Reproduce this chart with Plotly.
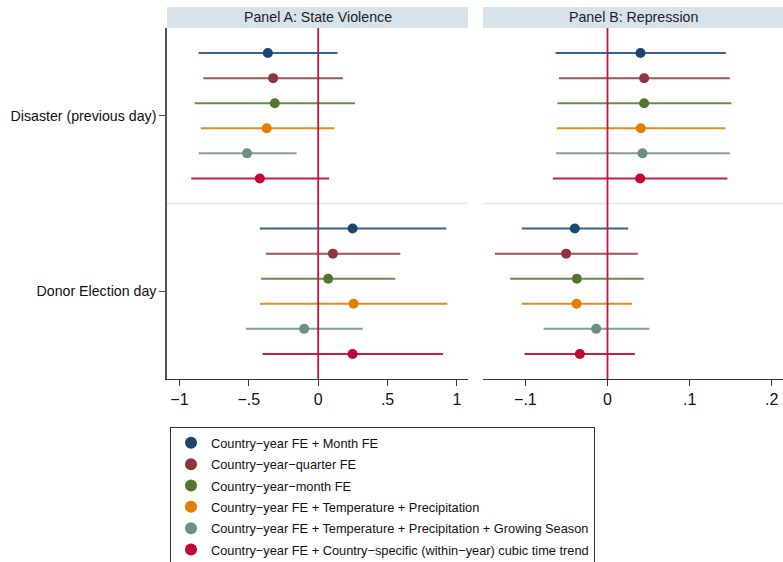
import plotly.graph_objects as go

specs = ["Country−year FE + Month FE",
         "Country−year−quarter FE",
         "Country−year−month FE",
         "Country−year FE + Temperature + Precipitation",
         "Country−year FE + Temperature + Precipitation + Growing Season",
         "Country−year FE + Country−specific (within−year) cubic time trend"]
colors = ["#1a476f", "#90353b", "#55752f", "#e37e00", "#6e8e84", "#c10534"]
line_colors = ["rgba(26,71,111,0.85)", "rgba(144,53,59,0.85)", "rgba(85,117,47,0.85)",
               "rgba(227,126,0,0.9)", "rgba(110,142,132,0.85)", "rgba(193,5,52,0.9)"]
groups = ["Disaster (previous day)", "Donor Election day"]
panels = ["Panel A: State Violence", "Panel B: Repression"]

# Panel A: State Violence  (rows = specs; [disaster, election])
a_coef = [[-0.363, 0.248], [-0.325, 0.106], [-0.313, 0.072], [-0.371, 0.255], [-0.513, -0.101], [-0.421, 0.248]]
a_lo   = [[-0.862, -0.421], [-0.828, -0.378], [-0.890, -0.412], [-0.847, -0.419], [-0.862, -0.522], [-0.915, -0.402]]
a_hi   = [[0.140, 0.924], [0.178, 0.592], [0.265, 0.556], [0.116, 0.931], [-0.156, 0.322], [0.079, 0.900]]
# Panel B: Repression
b_coef = [[0.0402, -0.0398], [0.0446, -0.0503], [0.0446, -0.0373], [0.0406, -0.0377], [0.0426, -0.0138], [0.0398, -0.0337]]
b_lo   = [[-0.0633, -0.1043], [-0.0592, -0.1371], [-0.0609, -0.1185], [-0.0617, -0.1043], [-0.0625, -0.0779], [-0.0665, -0.1010]]
b_hi   = [[0.1440, 0.0252], [0.1490, 0.0369], [0.1510, 0.0442], [0.1436, 0.0300], [0.1490, 0.0511], [0.1460, 0.0333]]

a_ticks = [-1, -0.5, 0, 0.5, 1]
a_ticktext = ["−1", "−.5", "0", ".5", "1"]
b_ticks = [-0.1, 0, 0.1, 0.2]
b_ticktext = ["−.1", "0", ".1", ".2"]

W, H = 783, 562
FONT = "Liberation Sans, Arial, sans-serif"

fig = go.Figure()

n = len(specs)
group_gap = n + 1
for i in range(n):
    ys = [i, i + group_gap]
    for p, (coef, lo, hi, xa) in enumerate([(a_coef, a_lo, a_hi, "x"), (b_coef, b_lo, b_hi, "x2")]):
        c = coef[i]
        fig.add_trace(go.Scatter(
            x=c, y=ys, mode="markers", xaxis=xa, yaxis="y",
            name=specs[i], legendgroup=str(i), showlegend=(p == 0),
            marker=dict(color=colors[i], size=10),
            error_x=dict(type="data", symmetric=False,
                         array=[hi[i][k] - c[k] for k in range(2)],
                         arrayminus=[c[k] - lo[i][k] for k in range(2)],
                         color=line_colors[i], thickness=2, width=0),
        ))

dA = [167 / W, 468 / W]
dB = [483 / W, 1.0]
ytop, ybot = 28, 379
dY = [1 - ybot / H, 1 - ytop / H]

axis_common = dict(showgrid=False, zeroline=False, showline=True, linecolor="#333",
                   linewidth=1.2, ticks="outside", ticklen=6, tickcolor="#333",
                   tickfont=dict(size=16, color="#111", family=FONT))
fig.update_layout(
    width=W, height=H, margin=dict(l=0, r=0, t=0, b=0, autoexpand=False),
    paper_bgcolor="white", plot_bgcolor="white",
    font=dict(family=FONT, color="#111"),
    xaxis=dict(domain=dA, range=[-1.09, 1.08], tickvals=a_ticks, ticktext=a_ticktext,
               anchor="y", **axis_common),
    xaxis2=dict(domain=dB, range=[-0.1516, 0.2137], tickvals=b_ticks, ticktext=b_ticktext,
                anchor="y", **axis_common),
    yaxis=dict(domain=dY, range=[2 * n + 1, -1], tickvals=[(n - 1) / 2, group_gap + (n - 1) / 2],
               ticktext=groups, showgrid=False, zeroline=False, showline=True, linecolor="#555",
               linewidth=1.5, ticks="outside", ticklen=6, tickcolor="#555",
               tickfont=dict(size=14.2, color="#111", family=FONT), automargin=False),
    showlegend=True,
    legend=dict(x=170 / W, y=1 - 427 / H, xanchor="left", yanchor="top",
                bordercolor="#333", borderwidth=1, bgcolor="white",
                font=dict(size=12.8, color="#111", family=FONT),
                tracegroupgap=1.7, itemsizing="constant",
                entrywidth=395, entrywidthmode="pixels"),
)

shapes = []
for xa, dom in [("x", dA), ("x2", dB)]:
    # header strip
    shapes.append(dict(type="rect", xref="paper", yref="paper", x0=dom[0], x1=dom[1],
                       y0=1 - 28 / H, y1=1 - 7 / H, fillcolor="#d8e3e9", line=dict(width=0),
                       layer="below"))
    # group separator
    shapes.append(dict(type="line", xref=xa + " domain", yref="y", x0=0, x1=1,
                       y0=n + 0.0, y1=n + 0.0, line=dict(color="#e6edf1", width=2), layer="below"))
    # zero reference line
    shapes.append(dict(type="line", xref=xa, yref="y domain", x0=0, x1=0, y0=0, y1=1,
                       line=dict(color="#c8133f", width=1.8), layer="above"))
fig.update_layout(shapes=shapes)

for dom, title in zip([dA, dB], panels):
    fig.add_annotation(x=(dom[0] + dom[1]) / 2, y=1 - 17.5 / H, xref="paper", yref="paper",
                       text=title, showarrow=False, font=dict(size=14.2, color="#222", family=FONT),
                       xanchor="center", yanchor="middle")

fig.write_html("out.html")
